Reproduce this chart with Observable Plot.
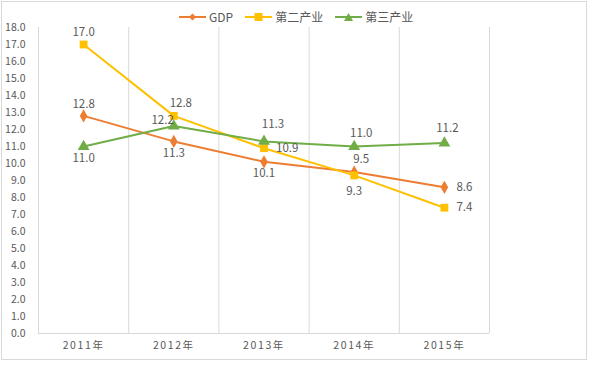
<!DOCTYPE html>
<html>
<head>
<meta charset="utf-8">
<script src="https://cdn.jsdelivr.net/npm/d3@7"></script>
<script src="https://cdn.jsdelivr.net/npm/@observablehq/plot@0.6"></script>
<style>
  html, body { margin: 0; padding: 0; background: #fff; }
  body { font-family: "Noto Sans CJK SC", "Noto Sans", sans-serif; }
  #wrap { position: relative; width: 602px; height: 367px; overflow: hidden; }
  #frame { position: absolute; left: 1px; top: 1px; width: 586px; height: 359px; box-sizing: border-box; border: 1px solid #d9d9d9; pointer-events: none; }
  #legend { position: absolute; left: 179px; top: 8px; display: flex; align-items: center; font-size: 12px; color: #595959; }
  #legend .item { display: flex; align-items: center; margin-right: 12px; }
  #legend svg { margin-right: 3px; }
  #chart { position: absolute; left: 0; top: 0; }
  #chart svg [aria-label="x-axis tick label"] text { letter-spacing: 1.6px; }
</style>
</head>
<body>
<div id="wrap">
  <div id="chart"></div>
  <div id="legend"></div>
  <div id="frame"></div>
</div>
<script>
// ---- data ----
const years = ["2011年", "2012年", "2013年", "2014年", "2015年"];
const seriesNames = ["GDP", "第二产业", "第三产业"];
const gdp = [12.8, 11.3, 10.1, 9.5, 8.6];
const secondary = [17.0, 12.8, 10.9, 9.3, 7.4];
const tertiary = [11.0, 12.2, 11.3, 11.0, 11.2];
const yTicks = d3.range(0, 19, 1);

// ---- style config ----
const colors = { "GDP": "#ED7D31", "第二产业": "#FFC000", "第三产业": "#70AD47" };
const symbols = { "GDP": "diamond", "第二产业": "square", "第三产业": "triangle" };
const symbolR = { "GDP": 4, "第二产业": 4.4, "第三产业": 4.4 };
const labelPlacement = {
  "GDP": ["top", "bottom", "bottom", "topr", "right"],
  "第二产业": ["top", "topr", "right", "bottom2", "right"],
  "第三产业": ["bottom", "left", "topr2", "topr", "top2"]
};
const offsets = {
  top: { dx: 0, dy: -12, anchor: "middle" },
  top2: { dx: 3, dy: -15, anchor: "middle" },
  bottom: { dx: 0, dy: 12, anchor: "middle" },
  bottom2: { dx: 0, dy: 16, anchor: "middle" },
  right: { dx: 12, dy: 0, anchor: "start" },
  topr: { dx: 7, dy: -13, anchor: "middle" },
  topr2: { dx: 9, dy: -17, anchor: "middle" },
  left: { dx: 0, dy: -6, anchor: "end" }
};

const valuesBySeries = { "GDP": gdp, "第二产业": secondary, "第三产业": tertiary };
const rows = seriesNames.flatMap(s => valuesBySeries[s].map((v, i) => ({ series: s, i, year: years[i], value: v })));

const marks = [
  Plot.ruleX(d3.range(years.length + 1), { y1: 0, y2: 18, stroke: "#d9d9d9", strokeWidth: 1 }),
  Plot.ruleY([0], { stroke: "#d9d9d9", strokeWidth: 1 }),
  Plot.axisY(yTicks, { tickSize: 0, tickPadding: 13, tickFormat: d => d.toFixed(1), fontSize: 10.5, fill: "#595959", label: null }),
  Plot.axisX(years.map((_, i) => i + 0.5), { tickSize: 0, tickPadding: 8, tickFormat: v => years[Math.floor(v)], fontSize: 10.5, fill: "#595959", label: null })
];

for (const s of seriesNames) {
  const data = rows.filter(d => d.series === s);
  marks.push(Plot.line(data, { x: d => d.i + 0.5, y: "value", stroke: colors[s], strokeWidth: 2 }));
  marks.push(Plot.dot(data, { x: d => d.i + 0.5, y: "value", symbol: symbols[s], r: symbolR[s], fill: colors[s], stroke: "none" }));
}
for (const s of seriesNames) {
  const data = rows.filter(d => d.series === s);
  data.forEach((d, k) => {
    const o = offsets[labelPlacement[s][k]];
    marks.push(Plot.text([d], {
      x: d => d.i + 0.5, y: "value", text: d => d.value.toFixed(1),
      dx: o.dx, dy: o.dy, textAnchor: o.anchor, fontSize: 11.5, fill: "#595959"
    }));
  });
}

const chart = Plot.plot({
  width: 602,
  height: 367,
  marginLeft: 38,
  marginRight: 113,
  marginTop: 27,
  marginBottom: 34,
  style: { fontFamily: "'Noto Sans CJK SC', 'Noto Sans', sans-serif", background: "transparent" },
  x: { domain: [0, years.length], axis: null },
  y: { domain: [0, 18], axis: null },
  marks
});
document.getElementById("chart").appendChild(chart);

// legend
const legend = document.getElementById("legend");
const symPaths = {
  "GDP": '<path d="M13.5 0.5 L17 4 L13.5 7.5 L10 4 Z"/>',
  "第二产业": '<rect x="9.5" y="0" width="8" height="8"/>',
  "第三产业": '<path d="M13.5 0 L18 8 L9 8 Z"/>'
};
for (const s of seriesNames) {
  const item = document.createElement("div");
  item.className = "item";
  item.innerHTML = `<svg width="27" height="8" viewBox="0 0 27 8"><line x1="0" x2="27" y1="4" y2="4" stroke="${colors[s]}" stroke-width="2"/><g fill="${colors[s]}">${symPaths[s]}</g></svg><span>${s}</span>`;
  legend.appendChild(item);
}
</script>
</body>
</html>
